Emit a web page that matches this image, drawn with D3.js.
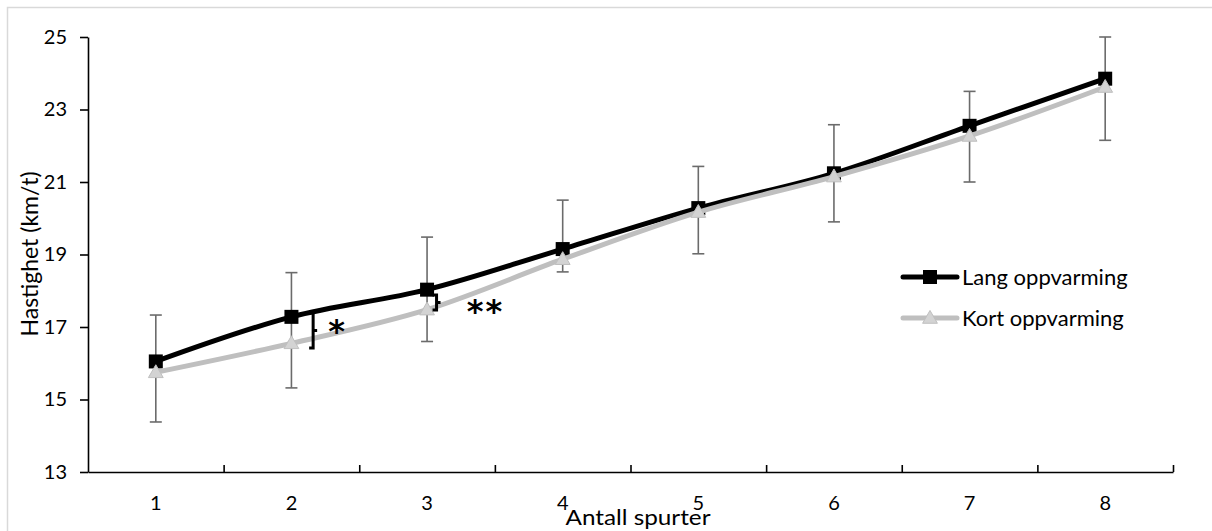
<!DOCTYPE html>
<html>
<head>
<meta charset="utf-8">
<script src="https://cdn.jsdelivr.net/npm/d3@7"></script>
<style>
  body { margin: 0; background: #fff; }
  text { font-family: Lato, "Open Sans", sans-serif; fill: #000; }
</style>
</head>
<body>
<svg id="chart" width="1212" height="531"></svg>
<script>
var categories = [1, 2, 3, 4, 5, 6, 7, 8];
var yTicks = [13, 15, 17, 19, 21, 23, 25];

var lang = [16.05, 17.28, 18.03, 19.15, 20.28, 21.24, 22.55, 23.85];
var kort = [15.75, 16.55, 17.48, 18.87, 20.17, 21.15, 22.27, 23.62];

// error bar ends (top from Lang, bottom from Kort)
var errTop = [17.33, 18.5, 19.48, 20.5, 21.43, 22.58, 23.5, 25.0];
var errBottom = [14.38, 15.32, 16.6, 18.52, 19.02, 19.9, 21.0, 22.15];

// significance marks: category, offset from its centre, span, label
var sigMarks = [
  { cat: 2, offset: 0.16, hi: 17.39, lo: 16.42, label: '*', labelOffset: 0.34, labelY: 17.11 },
  { cat: 3, offset: 0.07, hi: 17.88, lo: 17.47, label: '**', labelOffset: 0.43, labelY: 17.67 }
];

var seriesNames = ['Lang oppvarming', 'Kort oppvarming'];

var svg = d3.select('#chart');

// outer chart border
svg.append('rect')
  .attr('x', 7.5).attr('y', 7.5)
  .attr('width', 1220).attr('height', 540)
  .attr('fill', 'none')
  .attr('stroke', '#d9d9d9')
  .attr('stroke-width', 1.5);

var x = d3.scaleBand().domain(categories).range([88, 1173]);
var xPos = d3.scaleLinear().domain([0, categories.length]).range([88, 1173]);
var y = d3.scaleLinear().domain([13, 25]).range([472, 37]);

var cx = function (c) { return x(c) + x.bandwidth() / 2; };

// y axis
var yAxis = svg.append('g')
  .attr('transform', 'translate(88,0)')
  .call(d3.axisLeft(y).tickValues(yTicks).tickSize(8).tickSizeOuter(0).tickPadding(13));
yAxis.selectAll('text').style('font-size', '20px');

// x axis ticks between categories
svg.append('g')
  .attr('transform', 'translate(0,472)')
  .call(d3.axisBottom(xPos).tickValues(d3.range(1, categories.length + 1)).tickSize(-7).tickSizeOuter(0).tickFormat(''));

var xLabels = svg.append('g')
  .attr('transform', 'translate(0,472)')
  .call(d3.axisBottom(x).tickSize(0).tickPadding(24));
xLabels.select('.domain').remove();
xLabels.selectAll('text').style('font-size', '20px');

svg.selectAll('.domain, .tick line').attr('stroke', '#000').attr('stroke-width', 1.6);

// axis titles
svg.append('text')
  .attr('transform', 'translate(38,254) rotate(-90)')
  .attr('text-anchor', 'middle')
  .style('font-size', '23px')
  .text('Hastighet (km/t)');

svg.append('text')
  .attr('x', 638).attr('y', 525)
  .attr('text-anchor', 'middle')
  .style('font-size', '22px')
  .attr('textLength', 145)
  .attr('lengthAdjust', 'spacingAndGlyphs')
  .text('Antall spurter');

// error bars
var bars = svg.append('g').attr('stroke', '#6b6b6b').attr('stroke-width', 1.6);
categories.forEach(function (c, i) {
  var px = cx(c);
  bars.append('line').attr('x1', px).attr('x2', px).attr('y1', y(errTop[i])).attr('y2', y(errBottom[i]));
  bars.append('line').attr('x1', px - 6).attr('x2', px + 6).attr('y1', y(errTop[i])).attr('y2', y(errTop[i]));
  bars.append('line').attr('x1', px - 6).attr('x2', px + 6).attr('y1', y(errBottom[i])).attr('y2', y(errBottom[i]));
});

var line = d3.line()
  .x(function (d, i) { return cx(categories[i]); })
  .y(function (d) { return y(d); })
  .curve(d3.curveCatmullRom.alpha(0.5));

// Lang series
svg.append('path')
  .attr('d', line(lang))
  .attr('fill', 'none')
  .attr('stroke', '#000')
  .attr('stroke-width', 5)
  .attr('stroke-linejoin', 'round');

svg.selectAll('.sq').data(lang).enter().append('rect')
  .attr('x', function (d, i) { return cx(categories[i]) - 7; })
  .attr('y', function (d) { return y(d) - 7; })
  .attr('width', 14).attr('height', 14)
  .attr('fill', '#000');

// Kort series
svg.append('path')
  .attr('d', line(kort))
  .attr('fill', 'none')
  .attr('stroke', '#bfbfbf')
  .attr('stroke-width', 5)
  .attr('stroke-linejoin', 'round');

var tri = d3.symbol().type(d3.symbolTriangle).size(95);
svg.selectAll('.tri').data(kort).enter().append('path')
  .attr('d', tri)
  .attr('transform', function (d, i) { return 'translate(' + cx(categories[i]) + ',' + (y(d) + 1) + ')'; })
  .attr('fill', '#d3d3d3')
  .attr('stroke', '#bfbfbf')
  .attr('stroke-width', 1);

// significance brackets
sigMarks.forEach(function (m) {
  var bx = xPos(categories.indexOf(m.cat) + 0.5 + m.offset);
  var top = y(m.hi), bot = y(m.lo), mid = (top + bot) / 2;
  svg.append('path')
    .attr('d', 'M' + (bx - 4) + ',' + top + 'H' + bx + 'V' + bot + 'H' + (bx - 4) +
               'M' + bx + ',' + mid + 'H' + (bx + 4))
    .attr('fill', 'none')
    .attr('stroke', '#000')
    .attr('stroke-width', 3);
  svg.append('text')
    .attr('x', xPos(categories.indexOf(m.cat) + 0.5 + m.labelOffset))
    .attr('y', y(m.labelY) + 19)
    .attr('text-anchor', 'middle')
    .style('font-family', '"DejaVu Sans", sans-serif')
    .style('font-size', '32px')
    .style('font-weight', 'bold')
    .style('letter-spacing', '2px')
    .text(m.label);
});

// legend
var legend = svg.append('g');
var legendY = [277, 318];
seriesNames.forEach(function (name, i) {
  var g = legend.append('g').attr('transform', 'translate(903,' + legendY[i] + ')');
  g.append('line')
    .attr('x1', 0).attr('x2', 54)
    .attr('stroke', i === 0 ? '#000' : '#bfbfbf')
    .attr('stroke-width', 5)
    .attr('stroke-linecap', 'round');
  if (i === 0) {
    g.append('rect').attr('x', 20).attr('y', -7).attr('width', 14).attr('height', 14).attr('fill', '#000');
  } else {
    g.append('path').attr('d', tri).attr('transform', 'translate(27,1)')
      .attr('fill', '#d3d3d3').attr('stroke', '#bfbfbf');
  }
  g.append('text')
    .attr('x', 59).attr('y', 8)
    .style('font-size', '22px')
    .text(name);
});
</script>
</body>
</html>
